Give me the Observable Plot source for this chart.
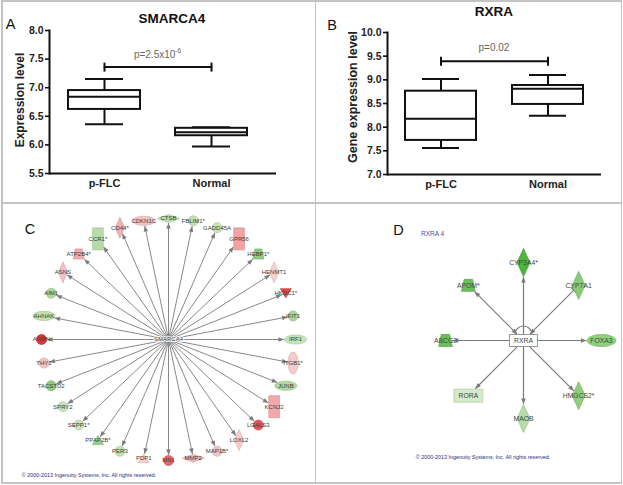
<!DOCTYPE html>
<html><head><meta charset="utf-8">
<script src="https://cdn.jsdelivr.net/npm/d3@7"></script>
<script src="https://cdn.jsdelivr.net/npm/@observablehq/plot@0.6"></script>
<style>
body{margin:0;background:#fff;}
#fig{position:relative;width:623px;height:485px;overflow:hidden;background:#fff;font-family:"Liberation Sans",Arial,sans-serif;}
.pl{position:absolute;}
.rule{position:absolute;background:#c3c3c3;}
.t{position:absolute;white-space:nowrap;line-height:1;}
</style></head><body><div id="fig"></div>
<script>
// ---------- DATA ----------
const groups = ["p-FLC", "Normal"];
// Panel A: SMARCA4 expression (box-plot summaries)
const smarcaMin = [6.36, 5.97];
const smarcaQ1 = [6.62, 6.16];
const smarcaMedian = [6.84, 6.22];
const smarcaQ3 = [6.95, 6.29];
const smarcaMax = [7.15, 6.31];
const smarcaTicks = [5.5, 6.0, 6.5, 7.0, 7.5, 8.0];
const smarcaBar = 7.36;
// Panel B: RXRA expression
const rxraMin = [7.56, 8.24];
const rxraQ1 = [7.72, 8.48];
const rxraMedian = [8.18, 8.81];
const rxraQ3 = [8.76, 8.88];
const rxraMax = [9.02, 9.10];
const rxraTicks = [7.0, 7.5, 8.0, 8.5, 9.0, 9.5, 10.0];
const rxraBar = 9.39;
// Panel C: SMARCA4 network (clockwise from left)
const cGenes = ["AGRN","AHNAK","AIM1","ASNS","ATP2B4*","CCR1*","CD44*","CDKN1C","CTSB","FBLIM1*","GADD45A","GPR56","HEBP1*","HENMT1","HKDC1*","IFIT1","IRF1","ITGB1*","JUNB","KCNJ2","LGALS3","LOXL2","MAP1B*","MMP2","MN1","PDP1","PER3","PPAP2B*","SEPP1*","SPRY2","TACSTD2","THY1"];
const cShapes = ["circle","ellipse","circle","diamond","trapezoid","rect","diamond","ellipse","hdiamond","circle","circle","rect","trapezoid","diamond","triDown","circle","ellipse","vellipse","ellipse","rect","circle","diamond","circle","hdiamond","circle","triUp","circle","triUp","circle","circle","circle","circle"];
const cColors = ["#e23434","#bfe2b0","#a9d99a","#f4bfc2","#f2a9aa","#b7dca7","#f2b2b4","#f4c3c4","#b9dfab","#c0e3b2","#c5e6b8","#f3a3a6","#8dcb7b","#f8d2d3","#e84545","#a7d897","#c3e4b5","#f6c9ca","#b1dba2","#f4a7a9","#e65656","#f6cdce","#f4c3c4","#f3b9ba","#e86565","#f8cfd0","#c1e3b3","#96cf86","#c8e7bc","#c6e6b9","#8fcc7d","#f5c1c2"];
const cHub = "SMARCA4";
// Panel D: RXRA network (counter-clockwise from right)
const dGenes = ["FOXA3","CYP7A1","CYP3A4*","APOM*","ABCG2","RORA","MAOB","HMGCS2*"];
const dShapes = ["ellipse","diamond","diamond","trapezoid","trapezoid","hrect","diamond","diamond"];
const dColors = ["#8ed07d","#88cd76","#4eb63f","#68c057","#68c057","#d3ebc9","#b5dfa6","#8fcf7c"];
const dEndHead = ["arrow","tee","arrow","arrow","arrow","arrow","arrow","arrow"];
const dStartHead = ["none","arrow","none","arrow","none","none","none","none"];
const dHub = "RXRA";
const copyright = "© 2000-2013 Ingenuity Systems, Inc. All rights reserved.";

// ---------- HELPERS ----------
const fig = document.getElementById("fig");
const FONT = "Liberation Sans, Arial, sans-serif";
function place(node, left, top) { node.classList.add("pl"); node.style.left = left + "px"; node.style.top = top + "px"; fig.appendChild(node); return node; }
function text(html, css) { const d = document.createElement("div"); d.className = "t"; d.innerHTML = html; Object.assign(d.style, css); fig.appendChild(d); return d; }
function centered(html, x, y, css) { return text(html, Object.assign({left: x + "px", top: y + "px", transform: "translate(-50%,-50%)"}, css)); }
function rule(l, t, w, h) { const d = document.createElement("div"); d.className = "rule"; Object.assign(d.style, {left: l + "px", top: t + "px", width: w + "px", height: h + "px"}); fig.appendChild(d); }

// ---------- BOX PLOTS ----------
function boxPlot(o) {
  const rows = groups.map((g, i) => ({g, min: o.min[i], q1: o.q1[i], med: o.med[i], q3: o.q3[i], max: o.max[i]}));
  const sig = groups.map(g => ({g, y: o.bar}));
  const cap = {draw(c) { c.moveTo(0, -4.5); c.lineTo(0, 4.5); }};
  const K = "#111";
  return Plot.plot({
    width: o.width, height: o.height,
    marginLeft: o.ml, marginRight: o.mr, marginTop: o.mt, marginBottom: o.mb,
    style: {fontFamily: FONT, background: "transparent", overflow: "visible"},
    x: {type: "band", domain: groups, paddingInner: o.pi, paddingOuter: o.po, align: o.align, axis: null},
    y: {domain: [o.ticks[0], o.ticks[o.ticks.length - 1]], axis: null},
    marks: [
      Plot.ruleX(rows, {x: "g", y1: "q3", y2: "max", stroke: K, strokeWidth: 2}),
      Plot.ruleX(rows, {x: "g", y1: "min", y2: "q1", stroke: K, strokeWidth: 2}),
      Plot.tickY(rows, {x: "g", y: "max", insetLeft: 17, insetRight: 17, stroke: K, strokeWidth: 2}),
      Plot.tickY(rows, {x: "g", y: "min", insetLeft: 17, insetRight: 17, stroke: K, strokeWidth: 2}),
      Plot.barY(rows, {x: "g", y1: "q1", y2: "q3", fill: "white", stroke: K, strokeWidth: 2}),
      Plot.tickY(rows, {x: "g", y: "med", stroke: K, strokeWidth: 2}),
      Plot.line(sig, {x: "g", y: "y", stroke: K, strokeWidth: 2}),
      Plot.dot(sig, {x: "g", y: "y", symbol: cap, r: 4, stroke: K, strokeWidth: 2}),
      Plot.axisY({ticks: o.ticks, tickFormat: d => d.toFixed(1), tickSize: 4, tickPadding: 2, fontSize: 10.5, fontWeight: "bold", stroke: K, strokeWidth: 1.6, fill: "#222", label: null}),
      Plot.axisX({tickSize: 0, tickPadding: 6, fontSize: 11, fontWeight: "bold", fill: "#222", label: null}),
      Plot.ruleY([o.ticks[0]], {stroke: K, strokeWidth: 2}),
      Plot.frame({anchor: "left", stroke: K, strokeWidth: 2})
    ]
  });
}

const plotA = boxPlot({width: 314, height: 202, ml: 49, mr: 38, mt: 30, mb: 29, pi: 0.33, po: 0.22, align: 0.4,
  min: smarcaMin, q1: smarcaQ1, med: smarcaMedian, q3: smarcaQ3, max: smarcaMax, ticks: smarcaTicks, bar: smarcaBar});
place(plotA, 0, 0);
const plotB = boxPlot({width: 309, height: 202, ml: 73, mr: 22, mt: 32, mb: 28, pi: 0.34, po: 0.166, align: 0.5,
  min: rxraMin, q1: rxraQ1, med: rxraMedian, q3: rxraQ3, max: rxraMax, ticks: rxraTicks, bar: rxraBar});
place(plotB, 314, 0);

function pLabel(plot, left, bar, html) {
  const sx = plot.scale("x"), sy = plot.scale("y");
  const c0 = sx.apply(groups[0]) + sx.bandwidth / 2, c1 = sx.apply(groups[1]) + sx.bandwidth / 2;
  centered(html, left + (c0 + c1) / 2, sy.apply(bar) - 13, {fontSize: "10px", color: "#666"});
}
pLabel(plotA, 0, smarcaBar, "p=2.5x10<sup style='font-size:6.5px;vertical-align:5px'>-6</sup>");
pLabel(plotB, 314, rxraBar, "p=0.02");

centered("SMARCA4", 172, 18.5, {fontSize: "13.5px", fontWeight: "bold", color: "#111"});
centered("RXRA", 494, 12, {fontSize: "13.5px", fontWeight: "bold", color: "#111"});
centered("Expression level", 20, 100, {fontSize: "12px", fontWeight: "bold", color: "#222", transform: "translate(-50%,-50%) rotate(-90deg)"});
centered("Gene expression level", 353, 97, {fontSize: "12.5px", fontWeight: "bold", color: "#222", transform: "translate(-50%,-50%) rotate(-90deg)"});
centered("A", 10.5, 23.5, {fontSize: "14.5px", color: "#111"});
centered("B", 332, 25, {fontSize: "14.5px", color: "#111"});
centered("C", 30, 228.5, {fontSize: "14.5px", color: "#111"});
centered("D", 398.5, 230, {fontSize: "14.5px", color: "#111"});

// ---------- NETWORK SHAPES ----------
function ellipsePath(c, a, b) {
  const k = 0.5523;
  c.moveTo(a, 0);
  c.bezierCurveTo(a, b * k, a * k, b, 0, b);
  c.bezierCurveTo(-a * k, b, -a, b * k, -a, 0);
  c.bezierCurveTo(-a, -b * k, -a * k, -b, 0, -b);
  c.bezierCurveTo(a * k, -b, a, -b * k, a, 0);
  c.closePath();
}
function makeShapes(s) {
  const out = {};
  for (const [key, {a, b, kind}] of Object.entries(s)) {
    let draw;
    if (kind === "ellipse") draw = c => ellipsePath(c, a, b);
    else if (kind === "rect") draw = c => { c.rect(-a, -b, 2 * a, 2 * b); };
    else if (kind === "diamond") draw = c => { c.moveTo(0, -b); c.lineTo(a, 0); c.lineTo(0, b); c.lineTo(-a, 0); c.closePath(); };
    else if (kind === "trapezoid") draw = c => { c.moveTo(-a * 0.62, -b); c.lineTo(a * 0.62, -b); c.lineTo(a, b); c.lineTo(-a, b); c.closePath(); };
    else if (kind === "triUp") draw = c => { c.moveTo(0, -b); c.lineTo(a, b); c.lineTo(-a, b); c.closePath(); };
    else if (kind === "triDown") draw = c => { c.moveTo(0, b); c.lineTo(a, -b); c.lineTo(-a, -b); c.closePath(); };
    out[key] = {a, b, kind, symbol: {draw}};
  }
  return out;
}
function edgeDist(sh, ux, uy) {
  const c = Math.abs(ux), s = Math.abs(uy), {a, b, kind} = sh;
  if (kind === "rect" || kind === "trapezoid") return Math.min(c ? a / c : 1e9, s ? b / s : 1e9);
  if (kind === "diamond" || kind.startsWith("tri")) return 1 / (c / a + s / b);
  return 1 / Math.sqrt((c / a) ** 2 + (s / b) ** 2);
}
const headSym = {draw(c) { c.moveTo(0, 0); c.lineTo(2.3, 5.6); c.lineTo(-2.3, 5.6); c.closePath(); }};
const teeSym = {draw(c) { c.moveTo(-4.5, 0); c.lineTo(4.5, 0); }};

function network(o) {
  const shapes = makeShapes(o.shapeDefs);
  const n = o.genes.length;
  const nodes = o.genes.map((g, i) => {
    const th = o.angle(i, n);
    const ux = Math.cos(th), uy = Math.sin(th);
    const px = ux * o.kx, py = uy * o.ky, L = Math.hypot(px, py);
    const dx = px / L, dy = py / L;
    const sh = shapes[o.shapes[i]];
    const endPx = L - edgeDist(sh, dx, dy) - 0.5;
    const startPx = o.hubShape ? edgeDist(o.hubShape, dx, dy) + 0.5 : 0;
    return {
      gene: g, shape: o.shapes[i], color: o.colors[i], x: ux, y: uy,
      x1: dx * startPx / o.kx, y1: dy * startPx / o.ky,
      x2: dx * endPx / o.kx, y2: dy * endPx / o.ky,
      rot: Math.atan2(dx, -dy) * 180 / Math.PI,
      end: o.endHead ? o.endHead[i] : "arrow", start: o.startHead ? o.startHead[i] : "none"
    };
  });
  const marks = [
    Plot.link(nodes, {x1: "x1", y1: "y1", x2: "x2", y2: "y2", stroke: o.lineColor, strokeWidth: o.lineWidth}),
    Plot.dot(nodes.filter(d => d.end === "arrow"), {x: "x2", y: "y2", rotate: "rot", symbol: headSym, r: 3, fill: o.lineColor, stroke: "none"}),
    Plot.dot(nodes.filter(d => d.end === "tee"), {x: "x2", y: "y2", rotate: "rot", symbol: teeSym, r: 3, stroke: o.lineColor, strokeWidth: o.lineWidth + 0.2}),
    Plot.dot(nodes.filter(d => d.start === "arrow"), {x: "x1", y: "y1", rotate: d => d.rot + 180, symbol: headSym, r: 3, fill: o.lineColor, stroke: "none"})
  ];
  for (const key of Object.keys(shapes)) {
    const sub = nodes.filter(d => d.shape === key);
    if (!sub.length) continue;
    marks.push(Plot.dot(sub, {x: "x", y: "y", symbol: shapes[key].symbol, r: 5, fill: "color",
      stroke: d => d3.color(d.color).darker(o.strokeDarken).formatHex(), strokeWidth: 0.7}));
  }
  marks.push(Plot.text(nodes, {x: "x", y: "y", text: "gene", fontSize: o.labelSize, fill: o.labelColor}));
  marks.push(...o.hubMarks);
  return Plot.plot({
    width: o.width, height: o.height, margin: 0,
    style: {fontFamily: FONT, background: "transparent", overflow: "visible"},
    x: {domain: [-1, 1], range: [o.cx - o.kx, o.cx + o.kx], axis: null},
    y: {domain: [-1, 1], range: [o.cy - o.ky, o.cy + o.ky], axis: null},
    color: {type: "identity"},
    marks
  });
}

// Panel C
const plotC = network({
  width: 312, height: 280, cx: 166, cy: 136, kx: 127, ky: 121,
  genes: cGenes, shapes: cShapes, colors: cColors,
  angle: (i, n) => Math.PI + i * 2 * Math.PI / n,
  shapeDefs: {
    circle: {a: 5, b: 5, kind: "ellipse"}, ellipse: {a: 11, b: 4.6, kind: "ellipse"}, vellipse: {a: 5, b: 11, kind: "ellipse"},
    rect: {a: 5.3, b: 11, kind: "rect"}, diamond: {a: 4.6, b: 10.5, kind: "diamond"}, hdiamond: {a: 11, b: 4, kind: "diamond"},
    trapezoid: {a: 5.5, b: 5, kind: "trapezoid"}, triUp: {a: 5.5, b: 4.5, kind: "triUp"}, triDown: {a: 5.5, b: 4.5, kind: "triDown"}
  },
  lineColor: "#7c7c7c", lineWidth: 0.9, strokeDarken: 0.35, labelSize: 6, labelColor: "#3a3a3a",
  hubMarks: [Plot.text([cHub], {x: () => 0, y: () => 0, text: d => d, fontSize: 6, fill: "#444", stroke: "white", strokeWidth: 2, strokeOpacity: 0.8})]
});
place(plotC, 2, 203);

// Panel D
const loopSym = {draw(c) { c.moveTo(8.5, 0); c.arc(0, 0, 8.5, 0, 2 * Math.PI); }};
const hubBox = {a: 14, b: 6, kind: "rect"};
const plotD = network({
  width: 304, height: 280, cx: 206, cy: 137, kx: 78, ky: 78,
  genes: dGenes, shapes: dShapes, colors: dColors, endHead: dEndHead, startHead: dStartHead, hubShape: hubBox,
  angle: (i, n) => -i * 2 * Math.PI / n,
  shapeDefs: {
    ellipse: {a: 14.5, b: 6, kind: "ellipse"}, diamond: {a: 6.5, b: 14, kind: "diamond"},
    trapezoid: {a: 6.8, b: 6, kind: "trapezoid"}, hrect: {a: 14.5, b: 6.6, kind: "rect"}
  },
  lineColor: "#7a7a7a", lineWidth: 1.2, strokeDarken: 0.45, labelSize: 6.8, labelColor: "#444",
  hubMarks: [
    Plot.dot([dHub], {x: () => 0, y: () => 0, dy: -6, symbol: loopSym, r: 5, fill: "none", stroke: "#7a7a7a", strokeWidth: 1.1}),
    Plot.dot([dHub], {x: () => 0, y: () => 0, symbol: {draw(c) { c.rect(-14, -6, 28, 12); }}, r: 5, fill: "white", stroke: "#8a8a8a", strokeWidth: 0.9}),
    Plot.text([dHub], {x: () => 0, y: () => 0, text: d => d, fontSize: 6.8, fill: "#444"})
  ]
});
place(plotD, 317, 203);

text("RXRA 4", {left: "421px", top: "231px", fontSize: "6.5px", color: "#4a4aa8"});
centered(copyright, 89, 476, {fontSize: "5.4px", color: "#2b2b78"});
centered(copyright, 483, 457.5, {fontSize: "5.4px", color: "#2b2b78"});

// ---------- PANEL BORDERS ----------
rule(1, 0, 621, 1.5); rule(1, 482, 621, 1.5); rule(1, 0, 1.5, 484); rule(620.5, 0, 1.5, 484);
rule(1, 202, 621, 1.5); rule(314.5, 0, 1.5, 484);
</script></body></html>
